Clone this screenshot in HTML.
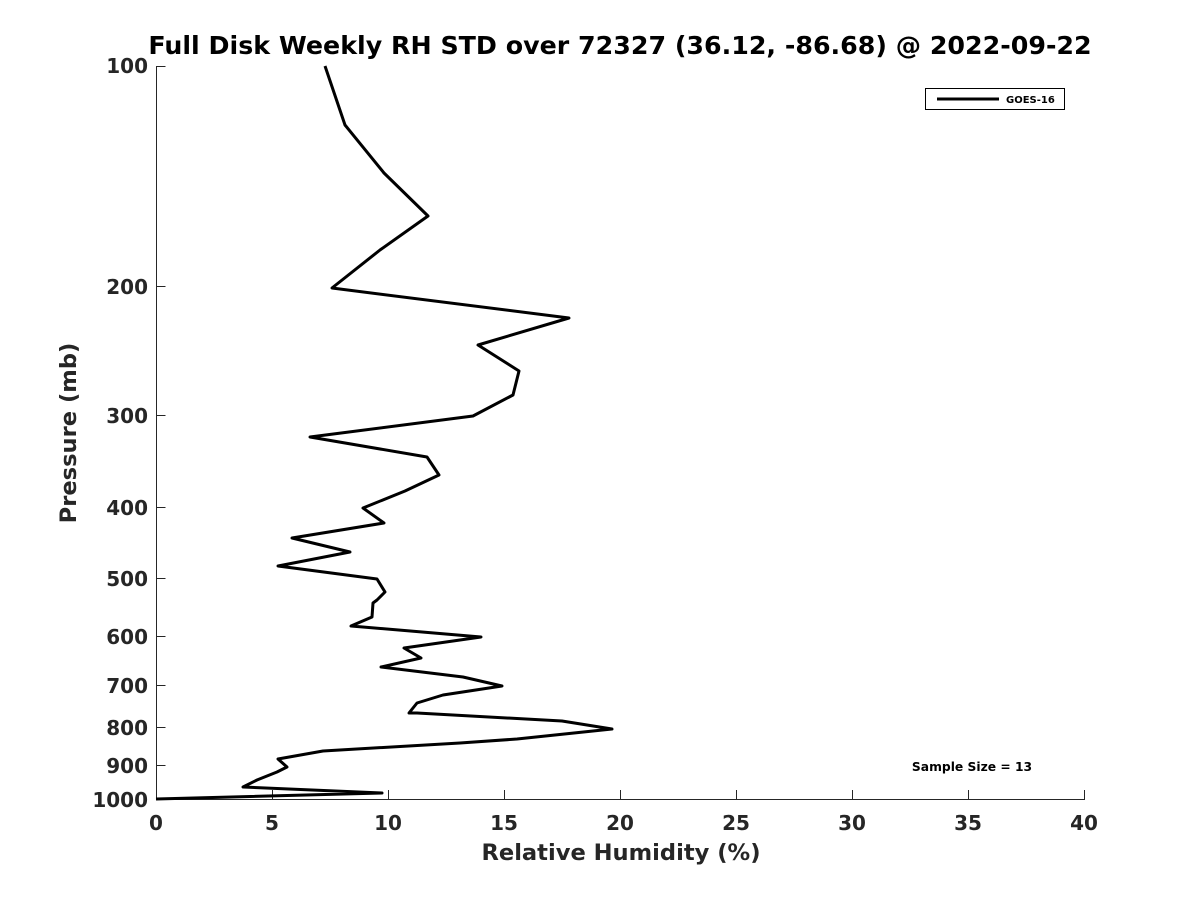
<!DOCTYPE html>
<html><head><style>body{margin:0;background:#fff}</style></head><body>
<svg width="1200" height="900" xmlns="http://www.w3.org/2000/svg" font-family="DejaVu Sans, Liberation Sans, sans-serif" font-weight="bold">
<rect width="1200" height="900" fill="#fff"/>
<text x="620" y="54" font-size="25.3" text-anchor="middle" fill="#000">Full Disk Weekly RH STD over 72327 (36.12, -86.68) @ 2022-09-22</text>
<g stroke="#262626" stroke-width="1" fill="none">
<line x1="156.5" y1="66" x2="156.5" y2="799.5"/>
<line x1="156" y1="799.5" x2="1085" y2="799.5"/>
<path d="M156.5 66.5h9M156.5 286.5h9M156.5 415.5h9M156.5 507.5h9M156.5 578.5h9M156.5 636.5h9M156.5 685.5h9M156.5 727.5h9M156.5 765.5h9"/>
<path d="M272.5 799v-9M388.5 799v-9M504.5 799v-9M620.5 799v-9M736.5 799v-9M852.5 799v-9M968.5 799v-9M1084.5 799v-9"/>
</g>
<g font-size="20" fill="#262626" text-anchor="end">
<text x="148" y="73">100</text><text x="148" y="294">200</text><text x="148" y="423">300</text><text x="148" y="515">400</text><text x="148" y="586">500</text><text x="148" y="644">600</text><text x="148" y="693">700</text><text x="148" y="735">800</text><text x="148" y="773">900</text><text x="148" y="807">1000</text>
</g>
<g font-size="20" fill="#262626" text-anchor="middle">
<text x="156" y="830">0</text><text x="272" y="830">5</text><text x="388" y="830">10</text><text x="504" y="830">15</text><text x="620" y="830">20</text><text x="736" y="830">25</text><text x="852" y="830">30</text><text x="968" y="830">35</text><text x="1084" y="830">40</text>
</g>
<text x="621" y="860" font-size="22.6" text-anchor="middle" fill="#262626">Relative Humidity (%)</text>
<text transform="translate(76,433) rotate(-90)" font-size="22.6" text-anchor="middle" fill="#262626">Pressure (mb)</text>
<polyline fill="none" stroke="#000" stroke-width="3" stroke-linejoin="round" points="156,799 382,793 243,787 257,780 277,772 287,767 278,759 323,751 460,743 517,739 612,729 562,721 417,713 409,713 417,703 443,695 502,686 463,677 381,667 421,658 404,648 481,637 351,626 372,617 373,603 377,600 385,592 377,579 278,566 350,552 292,538 384,523 363,508 405,491 439,475 427,457 310,437 473,416 513,395 519,371 478,345 569,318 332,288 380,250 428,216 384,173 345,125 325,66"/>
<rect x="925.5" y="88.5" width="139" height="21" fill="#fff" stroke="#000" stroke-width="1"/>
<line x1="937" y1="99" x2="999" y2="99" stroke="#000" stroke-width="3"/>
<text x="1006" y="103" font-size="10" fill="#000">GOES-16</text>
<text x="972" y="771" font-size="12.3" text-anchor="middle" fill="#000">Sample Size = 13</text>
</svg>
</body></html>
